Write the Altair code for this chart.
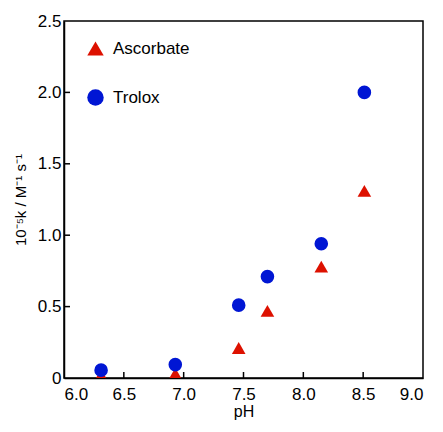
import altair as alt
import pandas as pd

ph = [6.31, 6.93, 7.46, 7.70, 8.15, 8.51]
ascorbate = [0.02, 0.03, 0.21, 0.47, 0.78, 1.31]
trolox = [0.055, 0.094, 0.51, 0.71, 0.94, 2.00]
series = ["Ascorbate", "Trolox"]
colors = ["#dd1100", "#0016d4"]
shapes = ["triangle-up", "circle"]
x_ticks = [6.0, 6.5, 7.0, 7.5, 8.0, 8.5, 9.0]
y_ticks = [0.0, 0.5, 1.0, 1.5, 2.0, 2.5]
x_inner = [6.5, 7.0, 7.5, 8.0, 8.5]
y_inner = [0.5, 1.0, 1.5, 2.0]

FONT = "Liberation Sans"
W, H = 359, 357

df = pd.DataFrame({
    "pH": ph + ph,
    "k": ascorbate + trolox,
    "series": [series[0]] * len(ph) + [series[1]] * len(ph),
})

xscale = alt.Scale(domain=[6.0, 9.0], nice=False, zero=False)
yscale = alt.Scale(domain=[0.0, 2.5], nice=False, zero=False)

xaxis = alt.Axis(values=x_ticks, format=".1f", ticks=False, grid=False,
                 labelPadding=8, labelFontSize=17, title="pH",
                 titleFontSize=16, titleFontWeight="normal", titlePadding=1)
yaxis = alt.Axis(values=y_ticks, ticks=False, grid=False, labelPadding=3,
                 labelFontSize=17,
                 labelExpr="datum.value == 0 ? '0' : format(datum.value, '.1f')",
                 title="10⁻⁵k / M⁻¹ s⁻¹", titleFontSize=15,
                 titleFontWeight="normal", titlePadding=9)

points = alt.Chart(df).mark_point(filled=True, opacity=1, clip=True, strokeWidth=0, size=185).encode(
    x=alt.X("pH:Q", scale=xscale, axis=xaxis),
    y=alt.Y("k:Q", scale=yscale, axis=yaxis),
    color=alt.Color("series:N", scale=alt.Scale(domain=series, range=colors),
                    legend=alt.Legend(title=None, orient="none", legendX=23, legendY=19,
                                      symbolSize=270, labelFontSize=17, labelFont=FONT,
                                      rowPadding=31, padding=0, labelOffset=9,
                                      symbolStrokeWidth=0)),
    shape=alt.Shape("series:N", scale=alt.Scale(domain=series, range=shapes)),
)

xt = alt.Chart(pd.DataFrame({"v": x_inner})).mark_rule(color="black", strokeWidth=1.5).encode(
    x=alt.X("v:Q", scale=xscale), y=alt.value(H), y2=alt.value(H - 6))
yt = alt.Chart(pd.DataFrame({"v": y_inner})).mark_rule(color="black", strokeWidth=1.5).encode(
    y=alt.Y("v:Q", scale=yscale), x=alt.value(0), x2=alt.value(6))

chart = alt.layer(xt, yt, points).properties(
    width=W, height=H,
    autosize=alt.AutoSizeParams(type="none"),
    padding={"left": 56, "top": 13, "right": 12, "bottom": 43},
).configure_view(stroke="black", strokeWidth=1.5).configure_axis(
    domainColor="black", domainWidth=1.5, labelColor="black", titleColor="black",
    labelFont=FONT, titleFont=FONT,
)

chart.save("out.html", embed_options={"renderer": "svg", "actions": False})
